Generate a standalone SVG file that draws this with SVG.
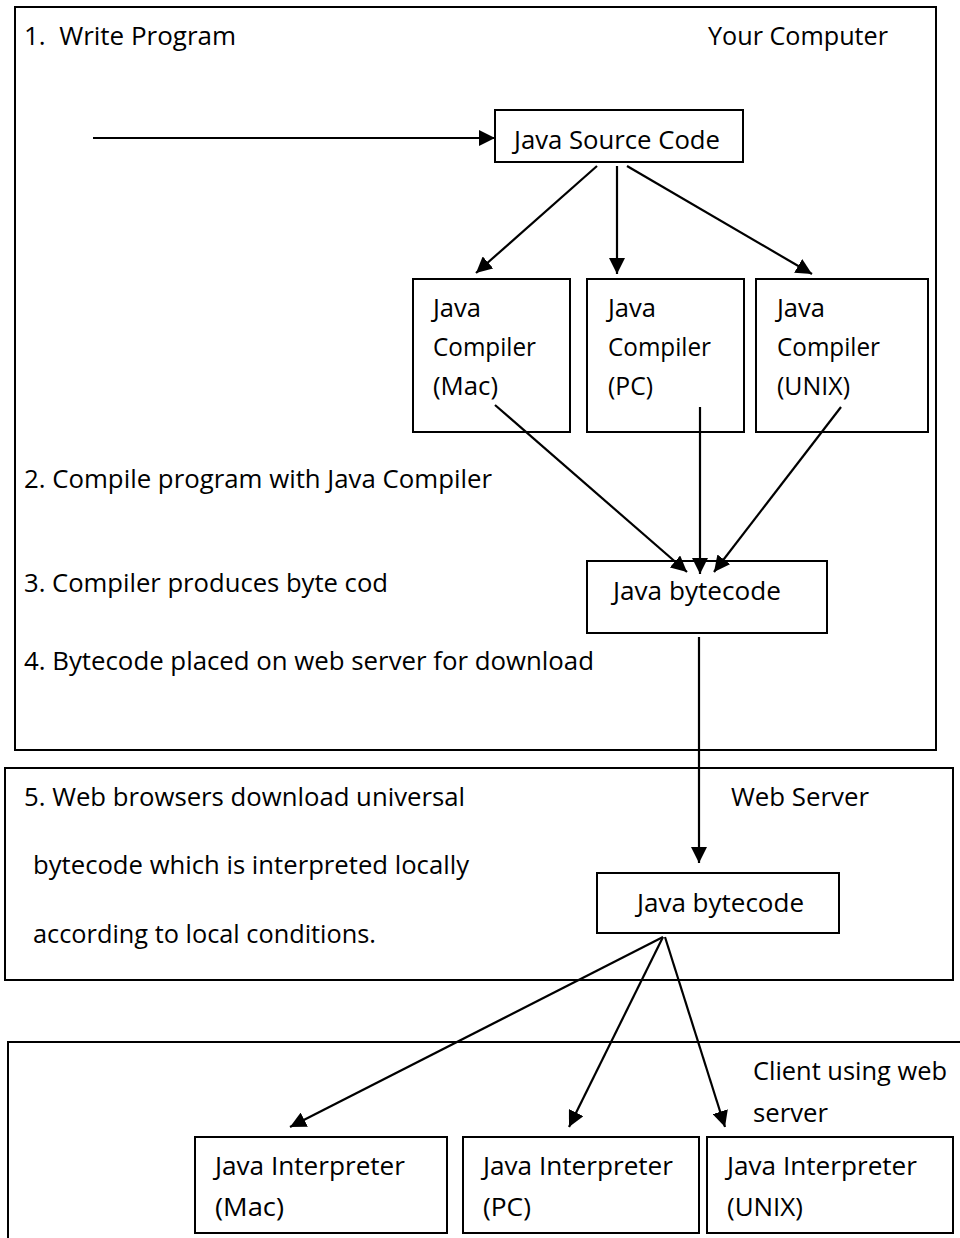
<svg xmlns="http://www.w3.org/2000/svg" width="960" height="1238" viewBox="0 0 960 1238">
<style>
  .box { fill: #fff; stroke: #000; stroke-width: 2; }
  .frame { fill: none; stroke: #000; stroke-width: 2; }
  .t { font-family: "Open Sans", "Liberation Sans", sans-serif; font-size: 25px; fill: #000; white-space: pre; }
  .c { stroke: #000; stroke-width: 2.2; fill: none; marker-end: url(#arr); }
</style>
<defs>
  <marker id="arr" markerUnits="userSpaceOnUse" markerWidth="18" markerHeight="16" refX="16" refY="8" orient="auto">
    <path d="M0,0 L16,8 L0,16 z" fill="#000"/>
  </marker>
</defs>
<rect width="960" height="1238" fill="#fff"/>

<g id="your-computer">
  <rect class="frame" x="15" y="7" width="921" height="743"/>
  <text class="t" x="24" y="45" textLength="212" lengthAdjust="spacingAndGlyphs">1.  Write Program</text>
  <text class="t" x="708" y="45" textLength="180" lengthAdjust="spacingAndGlyphs">Your Computer</text>
  <text class="t" x="24" y="488" textLength="468" lengthAdjust="spacingAndGlyphs">2. Compile program with Java Compiler</text>
  <text class="t" x="24" y="592" textLength="364" lengthAdjust="spacingAndGlyphs">3. Compiler produces byte cod</text>
  <text class="t" x="24" y="670" textLength="570" lengthAdjust="spacingAndGlyphs">4. Bytecode placed on web server for download</text>
</g>

<g id="web-server">
  <rect class="frame" x="5" y="768" width="948" height="212"/>
  <text class="t" x="24" y="806" textLength="441" lengthAdjust="spacingAndGlyphs">5. Web browsers download universal</text>
  <text class="t" x="731" y="806" textLength="138" lengthAdjust="spacingAndGlyphs">Web Server</text>
  <text class="t" x="33" y="874" textLength="436" lengthAdjust="spacingAndGlyphs">bytecode which is interpreted locally</text>
  <text class="t" x="33" y="943" textLength="343" lengthAdjust="spacingAndGlyphs">according to local conditions.</text>
</g>

<g id="client">
  <rect class="frame" x="8" y="1042" width="970" height="210"/>
  <text class="t" x="753" y="1080" textLength="194" lengthAdjust="spacingAndGlyphs">Client using web</text>
  <text class="t" x="753" y="1122" textLength="75" lengthAdjust="spacingAndGlyphs">server</text>
</g>

<g id="java-source-code">
  <rect class="box" x="495" y="110" width="248" height="52"/>
  <text class="t" x="514" y="149" textLength="206" lengthAdjust="spacingAndGlyphs">Java Source Code</text>
</g>

<g id="compiler-mac">
  <rect class="box" x="413" y="279" width="157" height="153"/>
  <text class="t" x="433" y="317" textLength="48" lengthAdjust="spacingAndGlyphs">Java</text>
  <text class="t" x="433" y="356" textLength="103" lengthAdjust="spacingAndGlyphs">Compiler</text>
  <text class="t" x="433" y="395" textLength="65" lengthAdjust="spacingAndGlyphs">(Mac)</text>
</g>

<g id="compiler-pc">
  <rect class="box" x="587" y="279" width="157" height="153"/>
  <text class="t" x="608" y="317" textLength="48" lengthAdjust="spacingAndGlyphs">Java</text>
  <text class="t" x="608" y="356" textLength="103" lengthAdjust="spacingAndGlyphs">Compiler</text>
  <text class="t" x="608" y="395" textLength="45" lengthAdjust="spacingAndGlyphs">(PC)</text>
</g>

<g id="compiler-unix">
  <rect class="box" x="756" y="279" width="172" height="153"/>
  <text class="t" x="777" y="317" textLength="48" lengthAdjust="spacingAndGlyphs">Java</text>
  <text class="t" x="777" y="356" textLength="103" lengthAdjust="spacingAndGlyphs">Compiler</text>
  <text class="t" x="777" y="395" textLength="73" lengthAdjust="spacingAndGlyphs">(UNIX)</text>
</g>

<g id="bytecode-1">
  <rect class="box" x="587" y="561" width="240" height="72"/>
  <text class="t" x="613" y="600" textLength="168" lengthAdjust="spacingAndGlyphs">Java bytecode</text>
</g>

<g id="bytecode-2">
  <rect class="box" x="597" y="873" width="242" height="60"/>
  <text class="t" x="637" y="912" textLength="167" lengthAdjust="spacingAndGlyphs">Java bytecode</text>
</g>

<g id="interpreter-mac">
  <rect class="box" x="195" y="1137" width="252" height="96"/>
  <text class="t" x="215" y="1175" textLength="190" lengthAdjust="spacingAndGlyphs">Java Interpreter</text>
  <text class="t" x="215" y="1216" textLength="69" lengthAdjust="spacingAndGlyphs">(Mac)</text>
</g>

<g id="interpreter-pc">
  <rect class="box" x="463" y="1137" width="236" height="96"/>
  <text class="t" x="483" y="1175" textLength="190" lengthAdjust="spacingAndGlyphs">Java Interpreter</text>
  <text class="t" x="483" y="1216" textLength="48" lengthAdjust="spacingAndGlyphs">(PC)</text>
</g>

<g id="interpreter-unix">
  <rect class="box" x="707" y="1137" width="246" height="96"/>
  <text class="t" x="727" y="1175" textLength="190" lengthAdjust="spacingAndGlyphs">Java Interpreter</text>
  <text class="t" x="727" y="1216" textLength="76" lengthAdjust="spacingAndGlyphs">(UNIX)</text>
</g>

<g id="connectors">
  <line class="c" x1="93" y1="138" x2="495" y2="138"/>
  <line class="c" x1="597" y1="166" x2="476" y2="273"/>
  <line class="c" x1="617" y1="166" x2="617" y2="274"/>
  <line class="c" x1="627" y1="166" x2="812" y2="274"/>
  <line class="c" x1="495" y1="405" x2="687" y2="572"/>
  <line class="c" x1="700" y1="407" x2="700" y2="574"/>
  <line class="c" x1="841" y1="407" x2="714" y2="572"/>
  <line class="c" x1="699" y1="637" x2="699" y2="863"/>
  <line class="c" x1="663" y1="937" x2="290" y2="1127"/>
  <line class="c" x1="663" y1="937" x2="569" y2="1127"/>
  <line class="c" x1="665" y1="937" x2="725" y2="1127"/>
</g>
</svg>
